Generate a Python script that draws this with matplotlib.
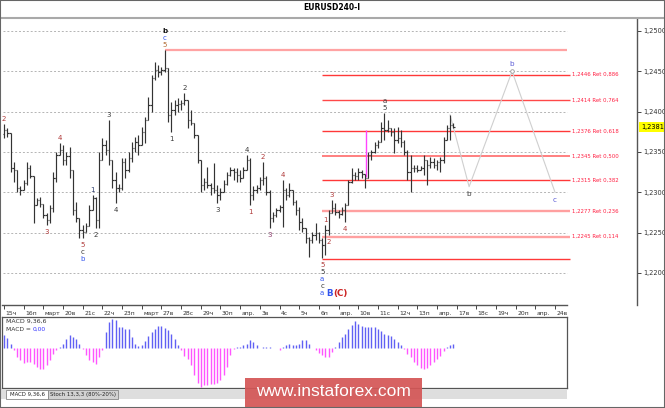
import matplotlib.pyplot as plt
import matplotlib.transforms as mtransforms
from matplotlib.collections import LineCollection
from matplotlib.patches import Rectangle

plt.rcParams['font.family'] = ['DejaVu Sans']

# ---------------- data (EURUSD, H4) ----------------
first_open = 1.2372
highs = [
    1.2385, 1.2380, 1.2374, 1.2338, 1.2328, 1.2308, 1.2315, 1.2338, 1.2334, 1.2320,
    1.2293, 1.2294, 1.2285, 1.2274, 1.2284, 1.2325, 1.2350, 1.2361, 1.2359, 1.2350,
    1.2356, 1.2328, 1.2288, 1.2268, 1.2259, 1.2262, 1.2284, 1.2297, 1.2294, 1.2350,
    1.2367, 1.2365, 1.2390, 1.2340, 1.2325, 1.2310,
    1.2343, 1.2343, 1.2350, 1.2362, 1.2369, 1.2371, 1.2381, 1.2393, 1.2418, 1.2445,
    1.2462, 1.2458, 1.2455, 1.2476, 1.2454, 1.2412, 1.2414, 1.2417, 1.2414, 1.2423,
    1.2414, 1.2402, 1.2386, 1.2371, 1.2340, 1.2318, 1.2331, 1.2312, 1.2336,
    1.2309, 1.2305, 1.2315, 1.2325, 1.2331, 1.2330,
    1.2330, 1.2328, 1.2331, 1.2346, 1.2343, 1.2308, 1.2309, 1.2319, 1.2338, 1.2320,
    1.2303, 1.2276, 1.2281, 1.2284, 1.2315, 1.2305, 1.2312, 1.2303, 1.2290, 1.2282,
    1.2268, 1.2256, 1.2245, 1.2251, 1.2262, 1.2251, 1.2243, 1.2259, 1.2278, 1.2290,
    1.2287, 1.2278, 1.2282, 1.2287, 1.2315,
    1.2330, 1.2325, 1.2330, 1.2328, 1.2323, 1.2350, 1.2352, 1.2362, 1.2365, 1.2387,
    1.2398, 1.2390, 1.2380, 1.2380, 1.2381, 1.2377, 1.2365, 1.2352, 1.2346, 1.2334,
    1.2334, 1.2333, 1.2346, 1.2340, 1.2344, 1.2343, 1.2340, 1.2344, 1.2369, 1.2383,
    1.2396, 1.2386,
]
lows = [
    1.2367, 1.2369, 1.2325, 1.2313, 1.2300, 1.2297, 1.2303, 1.2309, 1.2318, 1.2262,
    1.2284, 1.2282, 1.2268, 1.2259, 1.2262, 1.2276, 1.2313, 1.2346, 1.2334, 1.2334,
    1.2318, 1.2272, 1.2263, 1.2243, 1.2243, 1.2251, 1.2258, 1.2278, 1.2256, 1.2256,
    1.2340, 1.2346, 1.2334, 1.2305, 1.2287, 1.2300,
    1.2303, 1.2318, 1.2325, 1.2338, 1.2350, 1.2346, 1.2359, 1.2361, 1.2390, 1.2400,
    1.2439, 1.2443, 1.2445, 1.2449, 1.2387, 1.2375, 1.2396, 1.2400, 1.2402, 1.2408,
    1.2380, 1.2383, 1.2367, 1.2336, 1.2300, 1.2303, 1.2305, 1.2297, 1.2299,
    1.2287, 1.2290, 1.2300, 1.2309, 1.2320, 1.2315,
    1.2313, 1.2313, 1.2318, 1.2328, 1.2284, 1.2290, 1.2299, 1.2303, 1.2309, 1.2297,
    1.2256, 1.2263, 1.2269, 1.2276, 1.2257, 1.2290, 1.2294, 1.2284, 1.2272, 1.2253,
    1.2251, 1.2237, 1.2220, 1.2237, 1.2241, 1.2237, 1.2218, 1.2222, 1.2247, 1.2274,
    1.2272, 1.2268, 1.2272, 1.2263, 1.2284,
    1.2312, 1.2315, 1.2315, 1.2318, 1.2305, 1.2318, 1.2340, 1.2349, 1.2355, 1.2362,
    1.2365, 1.2375, 1.2370, 1.2349, 1.2361, 1.2356, 1.2346, 1.2315, 1.2300, 1.2325,
    1.2325, 1.2328, 1.2321, 1.2309, 1.2330, 1.2330, 1.2328, 1.2325, 1.2336, 1.2365,
    1.2365, 1.2380,
]
closes = [
    1.2377, 1.2373, 1.2330, 1.2328, 1.2305, 1.2303, 1.2312, 1.2330, 1.2320, 1.2284,
    1.2290, 1.2285, 1.2272, 1.2266, 1.2281, 1.2318, 1.2346, 1.2352, 1.2340, 1.2345,
    1.2328, 1.2278, 1.2268, 1.2253, 1.2251, 1.2258, 1.2278, 1.2293, 1.2266, 1.2340,
    1.2359, 1.2352, 1.2340, 1.2315, 1.2305, 1.2305,
    1.2338, 1.2328, 1.2343, 1.2355, 1.2362, 1.2359, 1.2375, 1.2390, 1.2408, 1.2442,
    1.2452, 1.2449, 1.2452, 1.2454, 1.2396, 1.2402, 1.2408, 1.2409, 1.2411, 1.2414,
    1.2390, 1.2386, 1.2371, 1.2340, 1.2309, 1.2313, 1.2309, 1.2305, 1.2303,
    1.2297, 1.2300, 1.2310, 1.2321, 1.2328, 1.2325,
    1.2321, 1.2318, 1.2328, 1.2340, 1.2297, 1.2303, 1.2305, 1.2315, 1.2318, 1.2300,
    1.2268, 1.2272, 1.2278, 1.2282, 1.2303, 1.2297, 1.2303, 1.2288, 1.2278, 1.2263,
    1.2256, 1.2243, 1.2241, 1.2247, 1.2250, 1.2241, 1.2235, 1.2253, 1.2274, 1.2281,
    1.2276, 1.2273, 1.2278, 1.2284, 1.2313,
    1.2321, 1.2320, 1.2325, 1.2323, 1.2318, 1.2346, 1.2350, 1.2359, 1.2362, 1.2380,
    1.2377, 1.2380, 1.2375, 1.2365, 1.2367, 1.2362, 1.2350, 1.2325, 1.2330, 1.2330,
    1.2328, 1.2330, 1.2340, 1.2334, 1.2338, 1.2334, 1.2338, 1.2340, 1.2365, 1.2380,
    1.2383, 1.2381,
]
# MACD(9,36,6) histogram, one value per bar (arbitrary units)
macd = [
    12.7, 10, 4, -2, -9, -12, -15, -14, -14, -16,
    -19, -21, -21, -17, -12, -6, -2, 1, 4, 9,
    13, 11, 9, 4, -1, -7, -12, -14, -16, -9,
    -2, 16, 26, 29, 28, 21, 21, 19, 19, 11,
    4, 2, 3, 7, 12, 16, 19, 22, 22, 20,
    18, 14, 9, 3, -2, -8, -11, -17, -27, -35,
    -39, -37, -37, -36, -36, -35, -32, -27, -19, -7,
    -1, 0.5, 1, 3, 4, 8, 6, 3, -0.5, 0.3,
    0.5, 0.3, -0.3, -0.5, -2, 0.5, 3, 4, 3, 3,
    4, 8, 8, 4, -0.5, -2, -5, -7, -9, -9,
    -4, 1, 6, 11, 14, 19, 23, 27, 24, 22,
    21, 21, 21, 21, 19, 17, 14, 13, 12, 9,
    6, 3, -1, -6, -9, -14, -17, -20, -21, -20,
    -17, -14, -11, -8, -3, 1, 3, 4,
]
date_labels = ["15ч", "16п", "март", "20в", "21с", "22ч", "23п", "март", "27в", "28с",
               "29ч", "30п", "апр.", "3в", "4с", "5ч", "6п", "апр.", "10в", "11с",
               "12ч", "13п", "апр.", "17в", "18с", "19ч", "20п", "апр.", "24в"]
price_ticks = [1.2200, 1.2250, 1.2300, 1.2350, 1.2400, 1.2450, 1.2500]
last_price = 1.2381

swing_high, swing_high_bar = 1.2477, 49
swing_low, swing_low_bar = 1.2217, 97
fib_prices = [1.2446, 1.2414, 1.2376, 1.2345, 1.2315, 1.2277, 1.2245]
fib_ratios = ["0,886", "0,764", "0,618", "0,500", "0,382", "0,236", "0,114"]

forecast_bars = [136, 141.8, 154.9, 168]
forecast_prices = [1.2396, 1.2307, 1.2450, 1.2300]
magenta_bar, magenta_lo, magenta_hi = 110.4, 1.2319, 1.2377

RB, DG, BL, NV, PU, BR = '#b03a3a', '#3a3a3a', '#3355ee', '#2a3a6a', '#8a3a6a', '#b06a30'
# (bar, side, labels stacked away from the bar)
wave_labels = [
    (0, 'above', [('2', RB)]),
    (17, 'above', [('4', RB)]),
    (13, 'below', [('3', RB)]),
    (24, 'below', [('5', RB), ('c', DG), ('b', BL)]),
    (27, 'above', [('1', NV)]),
    (28, 'below', [('2', DG)]),
    (32, 'above', [('3', DG)]),
    (34, 'below', [('4', DG)]),
    (49, 'above', [('5', BR), ('c', BL), ('b', '#111111')]),
    (51, 'below', [('1', DG)]),
    (55, 'above', [('2', DG)]),
    (65, 'below', [('3', DG)]),
    (74, 'above', [('4', DG)]),
    (75, 'below', [('1', RB)]),
    (79, 'above', [('2', RB)]),
    (81, 'below', [('3', PU)]),
    (85, 'above', [('4', RB)]),
    (97, 'below', [('5', RB), ('5', DG), ('a', BL), ('c', DG), ('a', BL)]),
    (98, 'above', [('1', RB)]),
    (99, 'below', [('2', RB)]),
    (100, 'above', [('3', RB)]),
    (104, 'below', [('4', RB)]),
    (116, 'above', [('5', DG), ('a', DG)]),
]

# ---------------- layout helpers (pixel grid of the 665x408 picture) ----------------
W, H = 665, 408
BAR0, STEP = 4, 3.28            # x pixel of first bar, pixels per bar
PPX = 0.03 / 242                # price per pixel


def fx(px):
    return px / W


def fy(py):
    return 1 - py / H


def bx(px):
    return (px - BAR0) / STEP


def fmt(p):
    return f'{p:.4f}'.replace('.', ',')


fig = plt.figure(figsize=(6.65, 4.08), dpi=100)
fig.patch.set_facecolor('white')

# ---------------- main price panel ----------------
ax = fig.add_axes([fx(2), fy(305), fx(637) - fx(2), fy(18) - fy(305)])
ax.set_xlim(bx(2), bx(637))
ax.set_ylim(1.25 - (305 - 31) * PPX, 1.25 + (31 - 18) * PPX)

ax.hlines(price_ticks, bx(3), bx(567), colors='#b4b4b4', linestyles=(0, (2, 2)), linewidth=0.7)

# fibonacci retracement
ax.hlines(swing_high, swing_high_bar, bx(567), colors='#ffa3a3', linewidth=1.6)
ax.hlines(swing_low, swing_low_bar, bx(570), colors='#ff3838', linewidth=1.0)
fib_colors = ['#ff3838', '#ff4848', '#ff3838', '#ff6a6a', '#ff3838', '#ffa0a0', '#ffa0a0']
fib_widths = [1.0, 1.0, 1.0, 1.2, 1.0, 1.7, 1.7]
for p, r, c, w in zip(fib_prices, fib_ratios, fib_colors, fib_widths):
    ax.hlines(p, swing_low_bar, bx(570), colors=c, linewidth=w)
    ax.text(bx(572), p, f'{fmt(p)} Ret {r}', color='#ff2244', fontsize=3.9,
            ha='left', va='center')

ax.vlines(magenta_bar, magenta_lo, magenta_hi, colors='#ff44ff', linewidth=1.0)

# OHLC bars
opens = [first_open] + closes[:-1]
segs = []
for i, (o, h, l, c) in enumerate(zip(opens, highs, lows, closes)):
    segs.append([(i, l), (i, h)])
    segs.append([(i - 0.42, o), (i, o)])
    segs.append([(i, c), (i + 0.42, c)])
ax.add_collection(LineCollection(segs, colors='#333333', linewidths=0.85, zorder=3))

# forecast path
ax.plot(forecast_bars, forecast_prices, color='#cfcfcf', linewidth=0.8, zorder=2)
ax.plot(forecast_bars[2], forecast_prices[2], marker='o', ms=2.6, mfc='white',
        mec='#9a9a9a', mew=0.6, zorder=4)
ax.annotate('b', (forecast_bars[1], forecast_prices[1]), xytext=(0, -7),
            textcoords='offset pixels', ha='center', va='center', fontsize=5.2, color=DG)
ax.annotate('b', (forecast_bars[2], forecast_prices[2]), xytext=(0, 7),
            textcoords='offset pixels', ha='center', va='center', fontsize=5.2, color='#5b5bd6')
ax.annotate('c', (forecast_bars[3], forecast_prices[3]), xytext=(0, -8),
            textcoords='offset pixels', ha='center', va='center', fontsize=5.2, color='#5b5bd6')

# wave counts
for i, side, stack in wave_labels:
    base = highs[i] if side == 'above' else lows[i]
    for k, (txt, col) in enumerate(stack):
        off = 5 + 7 * k if side == 'above' else -(7 + 7 * k)
        bold = (txt == 'b' and col == '#111111')
        ax.annotate(txt, (i, base), xytext=(0, off), textcoords='offset pixels',
                    ha='center', va='center', fontsize=5.0, color=col,
                    fontweight='bold' if bold else 'normal', zorder=5)
ax.annotate('B', (swing_low_bar, lows[swing_low_bar]), xytext=(7, -35), textcoords='offset pixels',
            ha='center', va='center', fontsize=6.3, color=BL, fontweight='bold')
ax.annotate('(C)', (swing_low_bar, lows[swing_low_bar]), xytext=(18, -35), textcoords='offset pixels',
            ha='center', va='center', fontsize=6.3, color='#cc2222', fontweight='bold')

# axes styling
for s in ('top', 'left'):
    ax.spines[s].set_visible(False)
ax.spines['right'].set_color('#555555')
ax.spines['right'].set_linewidth(1.0)
ax.spines['bottom'].set_color('#555555')
ax.spines['bottom'].set_linewidth(1.0)
ax.spines['bottom'].set_bounds(bx(2), bx(567))

ax.yaxis.tick_right()
ax.set_yticks(price_ticks)
ax.set_yticklabels([fmt(p) for p in price_ticks])
ax.tick_params(axis='y', length=3, width=0.7, color='#444444', labelsize=4.8,
               labelcolor='#333333', pad=1.5)

ax.set_xticks(range(0, 6 * len(date_labels), 6))
ax.set_xticklabels(date_labels)
ax.tick_params(axis='x', length=3, width=0.7, color='#444444', labelsize=4.4,
               labelcolor='#333333', pad=1.5)
shift = mtransforms.ScaledTranslation(1.5 / 100, 0, fig.dpi_scale_trans)
for lab in ax.get_xticklabels():
    lab.set_ha('left')
    lab.set_transform(lab.get_transform() + shift)

trans = mtransforms.blended_transform_factory(ax.transAxes, ax.transData)
ax.text(1.006, last_price, fmt(last_price), transform=trans, ha='left', va='center',
        fontsize=4.8, color='black', zorder=6,
        bbox=dict(boxstyle='square,pad=0.25', fc='#ffff00', ec='none'))

# ---------------- MACD panel ----------------
ax2 = fig.add_axes([fx(2), fy(388), fx(567) - fx(2), fy(317) - fy(388)])
ax2.set_xlim(bx(2), bx(567))
ax2.set_ylim(-40.3, 30.7)
bar_cols = ['#6060f4' if v >= 0 else '#ff55ff' for v in macd]
ax2.vlines(range(len(macd)), 0, macd, colors=bar_cols, linewidth=1.0)
ax2.set_xticks([])
ax2.set_yticks([])
for s in ax2.spines.values():
    s.set_color('#555555')
    s.set_linewidth(0.9)
fig.text(fx(6), fy(321.5), 'MACD 9,36,6', fontsize=4.5, color='#333333', va='center')
fig.text(fx(6), fy(329.5), 'MACD =', fontsize=4.3, color='#333333', va='center')
fig.text(fx(33), fy(329.5), '0,00', fontsize=4.3, color='#3333ff', va='center')

# ---------------- window chrome ----------------
fig.text(fx(332), fy(8), 'EURUSD240-I', ha='center', va='center', fontsize=5.5, fontweight='bold')
fig.add_artist(plt.Line2D([0, 1], [fy(17.5), fy(17.5)], color='#a9a9a9', linewidth=1.5))

fig.patches.append(Rectangle((0, fy(399)), fx(567), fy(388.5) - fy(399), transform=fig.transFigure,
                             fc='#dedede', ec='none'))
fig.patches.append(Rectangle((fx(6), fy(399)), fx(48) - fx(6), fy(389.5) - fy(399),
                             transform=fig.transFigure, fc='white', ec='#888888', lw=0.6))
fig.patches.append(Rectangle((fx(48), fy(399)), fx(118) - fx(48), fy(389.5) - fy(399),
                             transform=fig.transFigure, fc='#d2d2d2', ec='#888888', lw=0.6))
fig.text(fx(27), fy(394.5), 'MACD 9,36,6', ha='center', va='center', fontsize=3.9, color='#222222')
fig.text(fx(83), fy(394.5), 'Stoch 13,3,3 (80%-20%)', ha='center', va='center', fontsize=3.9,
         color='#222222')

fig.patches.append(Rectangle((fx(245), fy(407)), fx(422) - fx(245), fy(378) - fy(407),
                             transform=fig.transFigure, fc='#d45555', alpha=0.92, ec='none', zorder=10))
fig.text(fx(333.5), fy(391.5), 'www.instaforex.com', color='white', fontsize=12.5,
         family=['Liberation Sans', 'DejaVu Sans'], ha='center', va='center', zorder=11)

fig.patches.append(Rectangle((0, 0), 1, 1, transform=fig.transFigure, fill=False,
                             ec='#666666', lw=1.5, zorder=12))

fig.savefig('out.png', dpi=100)
